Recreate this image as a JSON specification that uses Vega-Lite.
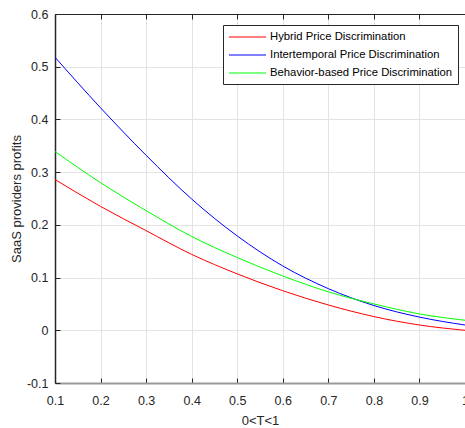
{
  "$schema": "https://vega.github.io/schema/vega-lite/v6.json",
  "autosize": {"type": "none"},
  "width": 410,
  "height": 369,
  "padding": {"left": 55, "top": 14, "right": 0, "bottom": 45},
  "background": "white",
  "config": {
    "font": "Liberation Sans",
    "view": {"stroke": "#262626", "strokeWidth": 1},
    "axis": {
      "labelFont": "Liberation Sans",
      "labelFontSize": 12.5,
      "labelColor": "#262626",
      "titleFont": "Liberation Sans",
      "titleFontSize": 13,
      "titleFontWeight": "normal",
      "titleColor": "#262626",
      "tickColor": "#262626",
      "tickSize": -5,
      "gridColor": "#e3e3e3",
      "gridWidth": 1
    }
  },
  "data": {
    "values": [
      {"T": 0.1, "v": 0.286, "s": "Hybrid Price Discrimination"},
      {"T": 0.2, "v": 0.235, "s": "Hybrid Price Discrimination"},
      {"T": 0.3, "v": 0.189, "s": "Hybrid Price Discrimination"},
      {"T": 0.4, "v": 0.144, "s": "Hybrid Price Discrimination"},
      {"T": 0.5, "v": 0.107, "s": "Hybrid Price Discrimination"},
      {"T": 0.6, "v": 0.075, "s": "Hybrid Price Discrimination"},
      {"T": 0.7, "v": 0.048, "s": "Hybrid Price Discrimination"},
      {"T": 0.8, "v": 0.026, "s": "Hybrid Price Discrimination"},
      {"T": 0.9, "v": 0.010, "s": "Hybrid Price Discrimination"},
      {"T": 1.0, "v": 0.000, "s": "Hybrid Price Discrimination"},
      {"T": 0.1, "v": 0.518, "s": "Intertemporal Price Discrimination"},
      {"T": 0.2, "v": 0.422, "s": "Intertemporal Price Discrimination"},
      {"T": 0.3, "v": 0.332, "s": "Intertemporal Price Discrimination"},
      {"T": 0.4, "v": 0.249, "s": "Intertemporal Price Discrimination"},
      {"T": 0.5, "v": 0.179, "s": "Intertemporal Price Discrimination"},
      {"T": 0.6, "v": 0.122, "s": "Intertemporal Price Discrimination"},
      {"T": 0.7, "v": 0.079, "s": "Intertemporal Price Discrimination"},
      {"T": 0.8, "v": 0.047, "s": "Intertemporal Price Discrimination"},
      {"T": 0.9, "v": 0.025, "s": "Intertemporal Price Discrimination"},
      {"T": 1.0, "v": 0.010, "s": "Intertemporal Price Discrimination"},
      {"T": 0.1, "v": 0.339, "s": "Behavior-based Price Discrimination"},
      {"T": 0.2, "v": 0.280, "s": "Behavior-based Price Discrimination"},
      {"T": 0.3, "v": 0.227, "s": "Behavior-based Price Discrimination"},
      {"T": 0.4, "v": 0.178, "s": "Behavior-based Price Discrimination"},
      {"T": 0.5, "v": 0.138, "s": "Behavior-based Price Discrimination"},
      {"T": 0.6, "v": 0.103, "s": "Behavior-based Price Discrimination"},
      {"T": 0.7, "v": 0.073, "s": "Behavior-based Price Discrimination"},
      {"T": 0.8, "v": 0.050, "s": "Behavior-based Price Discrimination"},
      {"T": 0.9, "v": 0.031, "s": "Behavior-based Price Discrimination"},
      {"T": 1.0, "v": 0.019, "s": "Behavior-based Price Discrimination"}
    ]
  },
  "layer": [
    {
      "mark": {"type": "line", "strokeWidth": 1, "interpolate": "monotone", "clip": true},
      "encoding": {
        "x": {
          "field": "T", "type": "quantitative",
          "scale": {"domain": [0.1, 1], "nice": false, "zero": false},
          "axis": {
            "orient": "bottom", "title": "0<T<1",
            "values": [0.1, 0.2, 0.3, 0.4, 0.5, 0.6, 0.7, 0.8, 0.9, 1],
            "labelExpr": "toString(round(datum.value*10)/10)",
            "domainColor": "#9a9a9a", "domainWidth": 2,
            "labelPadding": 16, "titlePadding": 8, "labelFlush": false
          }
        },
        "y": {
          "field": "v", "type": "quantitative",
          "scale": {"domain": [-0.1, 0.6], "nice": false, "zero": false},
          "axis": {
            "title": "SaaS providers profits",
            "values": [-0.1, 0, 0.1, 0.2, 0.3, 0.4, 0.5, 0.6],
            "labelExpr": "toString(round(datum.value*10)/10)",
            "domainColor": "#262626", "domainWidth": 1.5,
            "labelPadding": 12, "titlePadding": 3
          }
        },
        "color": {
          "field": "s", "type": "nominal",
          "scale": {
            "domain": ["Hybrid Price Discrimination", "Intertemporal Price Discrimination", "Behavior-based Price Discrimination"],
            "range": ["#ff0000", "#0000ff", "#00ff00"]
          },
          "legend": {
            "orient": "none", "legendX": 168, "legendY": 11,
            "title": null,
            "strokeColor": "#262626", "fillColor": "white",
            "padding": 5,
            "symbolType": "M-1,0H5.17", "symbolStrokeWidth": 1.2, "symbolSize": 144,
            "labelFont": "Liberation Sans", "labelFontSize": 11.3, "labelColor": "#000000",
            "labelLimit": 0,
            "labelOffset": 28, "rowPadding": 5
          }
        }
      }
    },
    {
      "mark": {"type": "line", "strokeOpacity": 0},
      "encoding": {
        "x": {
          "field": "T", "type": "quantitative",
          "axis": {
            "orient": "top", "title": null, "labels": false, "grid": false,
            "values": [0.1, 0.2, 0.3, 0.4, 0.5, 0.6, 0.7, 0.8, 0.9, 1],
            "domainColor": "#262626"
          }
        },
        "y": {"field": "v", "type": "quantitative", "axis": null},
        "detail": {"field": "s"}
      }
    }
  ],
  "resolve": {"axis": {"x": "independent", "y": "independent"}}
}
